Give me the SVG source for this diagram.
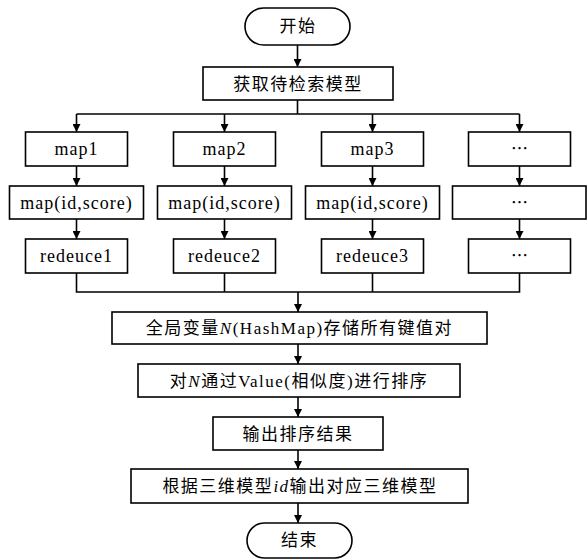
<svg xmlns="http://www.w3.org/2000/svg" width="587" height="559" viewBox="0 0 587 559">
<style>
.b{fill:#fff;stroke:#000;stroke-width:1.6}
.t{font-family:"Liberation Serif","Noto Sans CJK SC",serif;font-size:17px;letter-spacing:1.5px;fill:#000;text-anchor:middle}
.l{font-family:"Liberation Serif",serif;font-size:18px;letter-spacing:1px;fill:#000;text-anchor:middle}
.d{font-family:"Noto Sans CJK SC",sans-serif;font-size:17px;fill:#000;text-anchor:middle}
.c{fill:none;stroke:#000;stroke-width:1.6}
.i{font-style:italic}
</style>
<defs>
<marker id="ah" viewBox="0 0 10 10" refX="10" refY="5" markerWidth="8" markerHeight="8" markerUnits="userSpaceOnUse" orient="auto">
<path d="M0,0 L10,5 L0,10 Z" fill="#000"/>
</marker>
</defs>
<g id="connectors">
<line class="c" x1="297.5" y1="45" x2="297.5" y2="67" marker-end="url(#ah)"/>
<polyline class="c" points="297.5,100 297.5,114"/>
<line class="c" x1="76.5" y1="114" x2="519.5" y2="114"/>
<line class="c" x1="76.5" y1="114" x2="76.5" y2="132" marker-end="url(#ah)"/>
<line class="c" x1="224.5" y1="114" x2="224.5" y2="132" marker-end="url(#ah)"/>
<line class="c" x1="372.5" y1="114" x2="372.5" y2="132" marker-end="url(#ah)"/>
<line class="c" x1="519.5" y1="114" x2="519.5" y2="132" marker-end="url(#ah)"/>
<line class="c" x1="76.5" y1="166" x2="76.5" y2="186" marker-end="url(#ah)"/>
<line class="c" x1="224.5" y1="166" x2="224.5" y2="186" marker-end="url(#ah)"/>
<line class="c" x1="372.5" y1="166" x2="372.5" y2="186" marker-end="url(#ah)"/>
<line class="c" x1="519.5" y1="166" x2="519.5" y2="186" marker-end="url(#ah)"/>
<line class="c" x1="76.5" y1="219" x2="76.5" y2="239" marker-end="url(#ah)"/>
<line class="c" x1="224.5" y1="219" x2="224.5" y2="239" marker-end="url(#ah)"/>
<line class="c" x1="372.5" y1="219" x2="372.5" y2="239" marker-end="url(#ah)"/>
<line class="c" x1="519.5" y1="219" x2="519.5" y2="239" marker-end="url(#ah)"/>
<polyline class="c" points="76.5,273 76.5,292 519.5,292 519.5,273"/>
<line class="c" x1="224.5" y1="273" x2="224.5" y2="292"/>
<line class="c" x1="372.5" y1="273" x2="372.5" y2="292"/>
<line class="c" x1="298" y1="292" x2="298" y2="312" marker-end="url(#ah)"/>
<line class="c" x1="298" y1="344" x2="298" y2="364" marker-end="url(#ah)"/>
<line class="c" x1="298" y1="397" x2="298" y2="417" marker-end="url(#ah)"/>
<line class="c" x1="298" y1="450" x2="298" y2="469" marker-end="url(#ah)"/>
<line class="c" x1="298" y1="503" x2="298" y2="523" marker-end="url(#ah)"/>
</g>
<g id="start"><rect class="b" x="245" y="8" width="105" height="37" rx="18.5"/><text class="t" x="298" y="32">开始</text></g>
<g id="fetch"><rect class="b" x="203" y="67" width="190" height="33"/><text class="t" x="298" y="89.5">获取待检索模型</text></g>
<g id="map1"><rect class="b" x="25.5" y="132" width="102" height="34"/><text class="l" x="76.5" y="155">map1</text></g>
<g id="map2"><rect class="b" x="173.5" y="132" width="102" height="34"/><text class="l" x="224.5" y="155">map2</text></g>
<g id="map3"><rect class="b" x="321.5" y="132" width="102" height="34"/><text class="l" x="372.5" y="155">map3</text></g>
<g id="map4"><rect class="b" x="468.5" y="132" width="102" height="34"/><text class="d" x="519.5" y="155">…</text></g>
<g id="kv1"><rect class="b" x="9.5" y="186" width="134" height="33"/><text class="l" x="76.5" y="208.5">map(id,score)</text></g>
<g id="kv2"><rect class="b" x="157.5" y="186" width="134" height="33"/><text class="l" x="224.5" y="208.5">map(id,score)</text></g>
<g id="kv3"><rect class="b" x="305.5" y="186" width="134" height="33"/><text class="l" x="372.5" y="208.5">map(id,score)</text></g>
<g id="kv4"><rect class="b" x="452.5" y="186" width="133.5" height="33"/><text class="d" x="519.5" y="208.5">…</text></g>
<g id="red1"><rect class="b" x="25.5" y="239" width="102" height="34"/><text class="l" x="76.5" y="262">redeuce1</text></g>
<g id="red2"><rect class="b" x="173.5" y="239" width="102" height="34"/><text class="l" x="224.5" y="262">redeuce2</text></g>
<g id="red3"><rect class="b" x="321.5" y="239" width="102" height="34"/><text class="l" x="372.5" y="262">redeuce3</text></g>
<g id="red4"><rect class="b" x="468.5" y="239" width="102" height="34"/><text class="d" x="519.5" y="262">…</text></g>
<g id="global"><rect class="b" x="112" y="312" width="375" height="32"/><text class="t" x="299.5" y="334">全局变量<tspan class="i">N</tspan>(HashMap)存储所有键值对</text></g>
<g id="sort"><rect class="b" x="138" y="364" width="322" height="33"/><text class="t" x="299" y="386.5">对<tspan class="i">N</tspan>通过Value(相似度)进行排序</text></g>
<g id="output"><rect class="b" x="213" y="417" width="170" height="33"/><text class="t" x="298" y="439.5">输出排序结果</text></g>
<g id="lookup"><rect class="b" x="131" y="469" width="337" height="34"/><text class="t" x="300" y="491.5">根据三维模型<tspan class="i">id</tspan>输出对应三维模型</text></g>
<g id="end"><rect class="b" x="247" y="523" width="105" height="35" rx="17.5"/><text class="t" x="299.5" y="546">结束</text></g>
</svg>
